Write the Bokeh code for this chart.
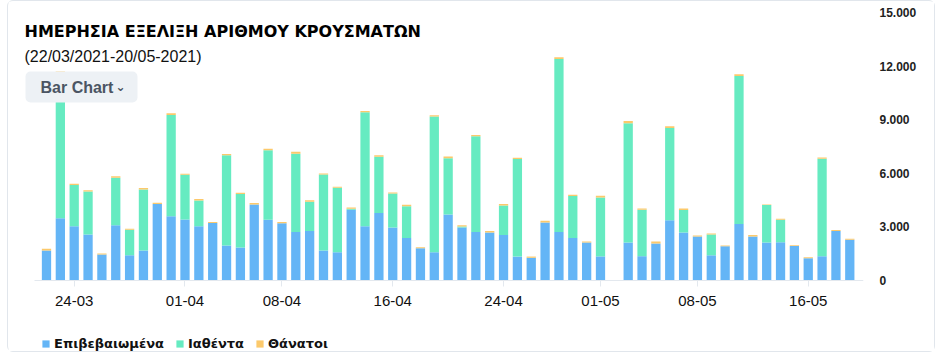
import pandas as pd
from bokeh.plotting import figure
from bokeh.models import (ColumnDataSource, Range1d, FixedTicker, Legend, LegendItem,
                          Label, BoxAnnotation)
from bokeh.embed import file_html
from bokeh.resources import INLINE

# ---------------- data ----------------
dates = [d.strftime("%d-%m") for d in pd.date_range("2021-03-22", "2021-05-20")]

confirmed = [1680, 3480, 3030, 2570, 1450, 3090, 1410, 1680, 4280, 3590,
             3420, 3030, 3220, 1960, 1840, 4260, 3400, 3200, 2710, 2770,
             1680, 1580, 3960, 3030, 3780, 2970, 2380, 1810, 1580, 3700,
             2970, 2710, 2690, 2550, 1340, 1270, 3250, 2710, 2380, 2120,
             1350, 0, 2120, 1360, 2070, 3370, 2680, 2460, 1410, 1920,
             3160, 2460, 2120, 2140, 1930, 1250, 1360, 2770, 2280, 0]
recovered = [0, 8130, 2310, 2410, 0, 2660, 1430, 3410, 0, 5670,
             2500, 1450, 0, 5050, 3000, 0, 3890, 0, 4390, 1640,
             4250, 3610, 60, 6390, 3140, 1900, 1780, 0, 7600, 3140,
             50, 5360, 0, 1650, 5460, 0, 0, 9690, 2350, 0,
             3300, 0, 6680, 2600, 0, 5170, 1270, 0, 1170, 0,
             8290, 0, 2100, 1260, 0, 0, 5460, 0, 0, 0]
deaths = [90, 85, 75, 75, 60, 90, 55, 90, 70, 95,
          60, 75, 55, 75, 75, 75, 90, 75, 110, 75,
          60, 55, 70, 70, 90, 55, 75, 55, 75, 95,
          70, 70, 80, 75, 75, 70, 95, 90, 75, 60,
          95, 0, 130, 75, 110, 95, 75, 55, 55, 40,
          95, 90, 40, 55, 40, 55, 60, 55, 55, 0]

series_names = ["Επιβεβαιωμένα", "Ιαθέντα", "Θάνατοι"]
series_colors = ["#64b5f6", "#66ebc1", "#fcc96b"]

tick_labels = ["24-03", "01-04", "08-04", "16-04", "24-04", "01-05", "08-05", "16-05"]
y_ticks = [0, 3000, 6000, 9000, 12000, 15000]
y_tick_labels = ["0", "3.000", "6.000", "9.000", "12.000", "15.000"]

title_text = "ΗΜΕΡΗΣΙΑ ΕΞΕΛΙΞΗ ΑΡΙΘΜΟΥ ΚΡΟΥΣΜΑΤΩΝ"
subtitle_text = "(22/03/2021-20/05-2021)"
button_text = "Bar Chart"

# ---------------- figure ----------------
x = list(range(len(dates)))
src = ColumnDataSource(dict(x=x, confirmed=confirmed, recovered=recovered, deaths=deaths))

p = figure(width=928, height=352, x_range=Range1d(-1.805, 58.99), y_range=Range1d(-4086, 15000),
           output_backend="svg", toolbar_location=None, y_axis_location="right",
           min_border_left=13, min_border_right=73, min_border_top=11, min_border_bottom=0)
p.styles = {"margin-left": "7px", "border": "1px solid #e1e6ec", "border-radius": "6px"}
p.xgrid.visible = False
p.ygrid.visible = False
p.outline_line_color = None
p.background_fill_color = "white"
p.border_fill_color = "white"

rs = p.vbar_stack(["confirmed", "recovered", "deaths"], x="x", width=0.67,
                  color=series_colors, line_color=None, source=src)

xa = p.xaxis[0]
xa.fixed_location = 0
xa.ticker = FixedTicker(ticks=[dates.index(t) for t in tick_labels])
xa.major_label_overrides = {dates.index(t): t for t in tick_labels}
xa.bounds = (-0.87, 58.99)
xa.axis_line_color = "#e3e8ee"
xa.major_tick_line_color = "#e3e8ee"
xa.major_tick_out = 6
xa.major_tick_in = 0
xa.minor_tick_line_color = None
xa.major_label_standoff = 10
xa.major_label_text_font = "Liberation Sans"
xa.major_label_text_font_size = "15px"
xa.major_label_text_color = "#111111"

ya = p.yaxis[0]
ya.ticker = FixedTicker(ticks=y_ticks)
ya.major_label_overrides = {v: s for v, s in zip(y_ticks, y_tick_labels)}
ya.axis_line_color = None
ya.major_tick_line_color = None
ya.major_tick_out = 0
ya.major_tick_in = 0
ya.minor_tick_line_color = None
ya.major_label_standoff = 16
ya.major_label_text_font = "Liberation Sans"
ya.major_label_text_font_style = "bold"
ya.major_label_text_font_size = "12px"
ya.major_label_text_color = "#222222"

legend = Legend(items=[LegendItem(label=n, renderers=[r]) for n, r in zip(series_names, rs)],
                orientation="horizontal", location=(20, 2),
                padding=0, margin=0, spacing=11, label_standoff=4,
                glyph_width=9, glyph_height=9, label_height=16,
                border_line_color=None, background_fill_alpha=0,
                label_text_font="DejaVu Sans", label_text_font_style="bold",
                label_text_font_size="13px", label_text_color="#111111")
p.add_layout(legend)

p.add_layout(Label(x=3, y=322, x_units="screen", y_units="screen", text=title_text,
                   text_font="DejaVu Sans", text_font_style="bold", text_font_size="16px",
                   text_color="#000000", text_baseline="middle"))
p.add_layout(Label(x=3, y=297, x_units="screen", y_units="screen", text=subtitle_text,
                   text_font="Liberation Sans", text_font_size="16px",
                   text_color="#111111", text_baseline="middle"))
p.add_layout(BoxAnnotation(left=4, right=116, top=282, bottom=251,
                           left_units="screen", right_units="screen",
                           top_units="screen", bottom_units="screen",
                           fill_color="#edf1f5", fill_alpha=1, line_color=None,
                           border_radius=5, level="annotation"))
p.add_layout(Label(x=19, y=266.5, x_units="screen", y_units="screen", text=button_text,
                   text_font="Liberation Sans", text_font_style="bold", text_font_size="16px",
                   text_color="#4b5563", text_baseline="middle"))
p.add_layout(Label(x=94, y=267, x_units="screen", y_units="screen", text="⌄",
                   text_font="DejaVu Sans", text_font_style="bold", text_font_size="12px",
                   text_color="#4b5563", text_baseline="middle"))

open("out.html", "w").write(file_html(p, INLINE))
